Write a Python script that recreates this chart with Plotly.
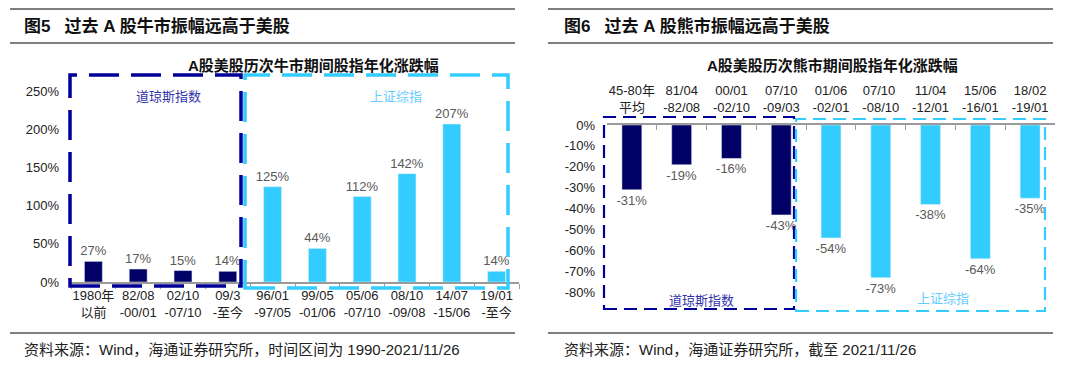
import plotly.graph_objects as go

W, H = 1080, 375

# ---------------- data ----------------
bull_categories = ["1980年<br>以前", "82/08<br>-00/01", "02/10<br>-07/10", "09/3<br>-至今",
                   "96/01<br>-97/05", "99/05<br>-01/06", "05/06<br>-07/10", "08/10<br>-09/08",
                   "14/07<br>-15/06", "19/01<br>-至今"]
bull_values = [27, 17, 15, 14, 125, 44, 112, 142, 207, 14]
bull_is_us = [True, True, True, True, False, False, False, False, False, False]

bear_categories = ["45-80年<br>平均", "81/04<br>-82/08", "00/01<br>-02/10", "07/10<br>-09/03",
                   "01/06<br>-02/01", "07/10 <br>-08/10", "11/04<br>-12/01", "15/06<br>-16/01",
                   "18/02<br>-19/01"]
bear_values = [-31, -19, -16, -43, -54, -73, -38, -64, -35]
bear_is_us = [True, True, True, True, False, False, False, False, False]

bull_ticks = [0, 50, 100, 150, 200, 250]
bear_ticks = [0, -10, -20, -30, -40, -50, -60, -70, -80]

NAVY = "#000066"
SKY = "#33CCFF"
FONT = "Liberation Sans, Noto Sans CJK SC, Arial, sans-serif"


def px(x):
    return x / W


def py(y):
    return 1 - y / H


fig = go.Figure()

fig.add_trace(go.Bar(
    x=bull_categories, y=bull_values,
    marker_color=[NAVY if u else SKY for u in bull_is_us],
    width=0.4,
    text=[f"{v}%" for v in bull_values], textposition="outside",
    textfont=dict(color="#595959", size=13, family=FONT),
    constraintext="none", textangle=0,
    cliponaxis=False, xaxis="x", yaxis="y", showlegend=False,
))
fig.add_trace(go.Bar(
    x=bear_categories, y=bear_values,
    marker_color=[NAVY if u else SKY for u in bear_is_us],
    width=0.4,
    text=[f"{v}%" for v in bear_values], textposition="outside",
    textfont=dict(color="#595959", size=13, family=FONT),
    constraintext="none", textangle=0,
    cliponaxis=False, xaxis="x2", yaxis="y2", showlegend=False,
))

fig.update_layout(
    width=W, height=H,
    margin=dict(l=0, r=0, t=0, b=0, pad=0, autoexpand=False),
    paper_bgcolor="white", plot_bgcolor="white",
    font=dict(family=FONT, size=13, color="#222"),
    xaxis=dict(domain=[px(71), px(519)], anchor="y", showline=True, linecolor="#9a9a9a",
               linewidth=2, ticks="outside", tickson="boundaries", ticklen=5,
               tickcolor="#9a9a9a", tickangle=0, automargin=False,
               tickfont=dict(size=13, color="#222", family=FONT),
               showgrid=False, fixedrange=True),
    yaxis=dict(domain=[py(282), py(76)], anchor="x", range=[0, 270], automargin=False,
               tickvals=bull_ticks, ticktext=[f"{t}%" for t in bull_ticks],
               showgrid=False, zeroline=False, showline=False,
               tickfont=dict(size=13, color="#222", family=FONT), ticklabelstandoff=11),
    xaxis2=dict(domain=[px(607), px(1055)], anchor="y2", side="top", showline=True,
                linecolor="#9a9a9a", linewidth=2, ticks="inside", tickson="boundaries",
                ticklen=5, tickcolor="#9a9a9a", tickangle=0, automargin=False,
                ticklabelstandoff=6,
                tickfont=dict(size=13, color="#222", family=FONT), showgrid=False),
    yaxis2=dict(domain=[py(309), py(125)], anchor="x2", range=[-88, 0], automargin=False,
                tickvals=bear_ticks, ticktext=[f"{t}%" for t in bear_ticks],
                showgrid=False, zeroline=False, showline=False,
                tickfont=dict(size=13, color="#222", family=FONT), ticklabelstandoff=11),
)

shapes = []
# header / footer rules
for x0, x1 in [(10, 515), (548, 1053)]:
    for y in (9, 43, 333):
        shapes.append(dict(type="line", xref="paper", yref="paper",
                           x0=px(x0), x1=px(x1), y0=py(y), y1=py(y),
                           line=dict(color="#7f7f7f", width=2)))
# dashed boxes
shapes.append(dict(type="rect", xref="paper", yref="paper",
                   x0=px(70), x1=px(241), y0=py(286), y1=py(75),
                   line=dict(color="#000099", width=3.5, dash="30px,12px")))
shapes.append(dict(type="rect", xref="paper", yref="paper",
                   x0=px(245), x1=px(508), y0=py(288), y1=py(75),
                   line=dict(color=SKY, width=3.5, dash="30px,12px")))
shapes.append(dict(type="rect", xref="paper", yref="paper",
                   x0=px(604), x1=px(794), y0=py(309), y1=py(117),
                   line=dict(color="#000099", width=2.2, dash="13px,7px")))
shapes.append(dict(type="rect", xref="paper", yref="paper",
                   x0=px(796), x1=px(1045), y0=py(311), y1=py(119),
                   line=dict(color=SKY, width=2.2, dash="13px,7px")))
fig.update_layout(shapes=shapes)

ann = []


def text(x, y, s, size, color="#111", bold=False, xanchor="left"):
    ann.append(dict(xref="paper", yref="paper", x=px(x), y=py(y),
                    text=f"<b>{s}</b>" if bold else s,
                    showarrow=False, xanchor=xanchor, yanchor="middle",
                    font=dict(size=size, color=color, family=FONT)))


text(22, 26, "图5   过去 A 股牛市振幅远高于美股", 17, bold=True)
text(562, 26, "图6   过去 A 股熊市振幅远高于美股", 17, bold=True)
text(313, 66, "A股美股历次牛市期间股指年化涨跌幅", 15, bold=True, xanchor="center")
text(832, 66, "A股美股历次熊市期间股指年化涨跌幅", 15, bold=True, xanchor="center")
text(168, 97, "道琼斯指数", 13, color="#3333AA", xanchor="center")
text(396, 97, "上证综指", 13, color="#66CCFF", xanchor="center")
text(701, 300, "道琼斯指数", 13, color="#3333AA", xanchor="center")
text(943, 298, "上证综指", 13, color="#66CCFF", xanchor="center")
text(22, 349, "资料来源：Wind，海通证券研究所，时间区间为 1990-2021/11/26", 15, color="#222")
text(562, 349, "资料来源：Wind，海通证券研究所，截至 2021/11/26", 15, color="#222")
fig.update_layout(annotations=ann)

fig.write_html("out.html", config={"displayModeBar": False},
               post_script="document.body.style.margin='0';document.body.style.overflow='hidden';")
